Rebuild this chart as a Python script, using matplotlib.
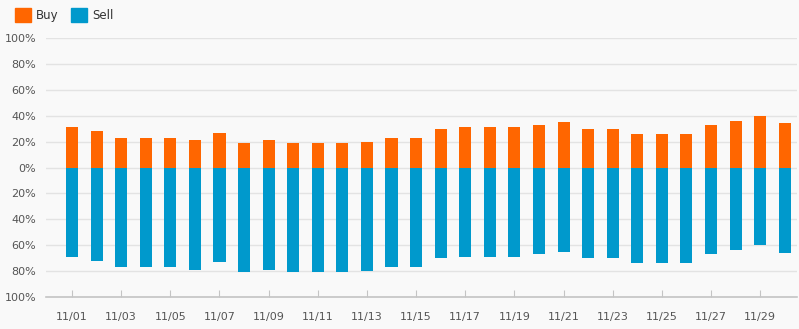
import numpy as np
import matplotlib
matplotlib.use('Agg')
import matplotlib.pyplot as plt
from matplotlib.patches import Patch
from matplotlib.ticker import FuncFormatter

# daily buy / sell share in percent
dates = ['11/%02d' % d for d in range(1, 31)]
buy = [31, 28, 23, 23, 23, 21, 27, 19, 21, 19, 19, 19, 20, 23, 23,
       30, 31, 31, 31, 33, 35, 30, 30, 26, 26, 26, 33, 36, 40, 34]
sell = [69, 72, 77, 77, 77, 79, 73, 81, 79, 81, 81, 81, 80, 77, 77,
        70, 69, 69, 69, 67, 65, 70, 70, 74, 74, 74, 67, 64, 60, 66]

orange = '#ff6600'
blue = '#0099cc'
bg = '#f9f9f9'
txt = '#555555'

fig = plt.figure(figsize=(7.99, 3.29), dpi=100, facecolor=bg)
ax = fig.add_axes([46 / 799, 32 / 329, 751 / 799, 259 / 329], facecolor=bg)

x = np.arange(len(dates))
ax.bar(x, buy, width=0.49, color=orange, zorder=3)
ax.bar(x, [-v for v in sell], width=0.49, color=blue, zorder=3)

ax.set_ylim(-100, 100)
ax.set_xlim(-1.06, 29.5)
ax.set_yticks(np.arange(-100, 101, 20))
ax.yaxis.set_major_formatter(FuncFormatter(lambda v, p: '%d%%' % abs(v)))
ax.grid(axis='y', color='#e3e3e3', linewidth=1, zorder=0)

ax.set_xticks(x[::2])
ax.set_xticklabels(dates[::2])

for s in ['top', 'left', 'right']:
    ax.spines[s].set_visible(False)
ax.spines['bottom'].set_color('#c4c4c4')
ax.spines['bottom'].set_linewidth(1.2)
ax.spines['bottom'].set_zorder(4)

ax.tick_params(axis='y', length=0, pad=7, labelsize=8, labelcolor=txt)
ax.tick_params(axis='x', direction='in', length=5, color='#c4c4c4',
               pad=11, labelsize=8, labelcolor=txt)

handles = [Patch(color=orange, label='Buy'), Patch(color=blue, label='Sell')]
fig.legend(handles=handles, loc='upper left', bbox_to_anchor=(15 / 799, 1 - 8 / 329),
           ncol=2, frameon=False, borderpad=0, borderaxespad=0,
           handlelength=1.35, handleheight=1.5, handletextpad=0.45,
           columnspacing=1.0, prop={'size': 8.5})
for t in fig.legends[0].get_texts():
    t.set_color('#333333')

fig.savefig('out.png', dpi=100, facecolor=bg)
